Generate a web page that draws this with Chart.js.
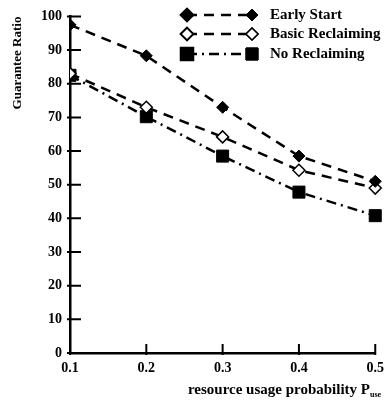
<!DOCTYPE html>
<html>
<head>
<meta charset="utf-8">
<script src="https://cdn.jsdelivr.net/npm/chart.js@4/dist/chart.umd.min.js"></script>
<style>
  body { margin: 0; background: #fff; }
  #wrap { width: 391px; height: 402px; }
</style>
</head>
<body>
<div id="wrap"><canvas id="canvas1" width="391" height="402"></canvas></div>
<script>
// Data
let probs = [0.1, 0.2, 0.3, 0.4, 0.5];
let earlyStart = [97.5, 88.3, 73, 58.5, 51];
let basicReclaiming = [83, 73, 64.2, 54.3, 49];
let noReclaiming = [82.5, 70.2, 58.5, 47.8, 40.8];
let yTicks = [0, 10, 20, 30, 40, 50, 60, 70, 80, 90, 100];
let xTicks = ["0.1", "0.2", "0.3", "0.4", "0.5"];

const serif = "'Liberation Serif', 'DejaVu Serif', serif";

function toXY(vals) {
    return vals.map((v, i) => ({ x: probs[i], y: v }));
}

// inside ticks, legend with two markers, axis titles
const paperPlugin = {
    id: "paper",
    afterDraw(chart) {
        let ctx = chart.ctx;
        let area = chart.chartArea;
        let x = chart.scales.x, y = chart.scales.y;
        ctx.save();
        ctx.strokeStyle = "#000";
        ctx.lineWidth = 2;
        ctx.beginPath();
        yTicks.forEach(v => {
            let py = y.getPixelForValue(v);
            ctx.moveTo(area.left - 3, py);
            ctx.lineTo(area.left + 11, py);
        });
        xTicks.forEach(t => {
            let px = x.getPixelForValue(parseFloat(t));
            ctx.moveTo(px, area.bottom + 2);
            ctx.lineTo(px, area.bottom - 9);
        });
        ctx.stroke();

        // legend
        let rows = [15, 34, 54];
        chart.data.datasets.forEach((ds, i) => {
            let ly = rows[i];
            ctx.setLineDash(ds.borderDash);
            ctx.lineWidth = ds.borderWidth;
            ctx.strokeStyle = "#000";
            ctx.beginPath();
            ctx.moveTo(187, ly);
            ctx.lineTo(252, ly);
            ctx.stroke();
            ctx.setLineDash([]);
            [187, 252].forEach(mx => {
                Chart.helpers.drawPoint(ctx, {
                    pointStyle: ds.pointStyle,
                    radius: ds.pointRadius,
                    borderWidth: ds.pointBorderWidth
                }, mx, ly);
                ctx.fillStyle = ds.pointBackgroundColor;
                ctx.strokeStyle = "#000";
                ctx.lineWidth = ds.pointBorderWidth;
                ctx.fill();
                ctx.stroke();
            });
            ctx.fillStyle = "#000";
            ctx.font = "bold 15px " + serif;
            ctx.textAlign = "left";
            ctx.textBaseline = "middle";
            ctx.fillText(ds.label, 270, ly);
        });

        // x axis title
        ctx.fillStyle = "#000";
        ctx.font = "bold 15px " + serif;
        ctx.textAlign = "right";
        ctx.textBaseline = "alphabetic";
        ctx.fillText("resource usage probability P", 370, 394);
        ctx.font = "bold 8px " + serif;
        ctx.textAlign = "left";
        ctx.fillText("use", 370, 397);

        // y axis title
        ctx.translate(18, 63);
        ctx.rotate(-Math.PI / 2);
        ctx.font = "bold 13px " + serif;
        ctx.textAlign = "center";
        ctx.textBaseline = "middle";
        ctx.fillText("Guarantee Ratio", 0, 0);
        ctx.restore();
    }
};

let myChart1 = document.querySelector("#canvas1").getContext("2d");

let lineChart = new Chart(myChart1, {
    type: "line",
    data: {
        datasets: [{
            label: "Early Start",
            data: toXY(earlyStart),
            borderColor: "#000",
            borderWidth: 2.5,
            borderDash: [10, 7],
            pointStyle: "rectRot",
            pointRadius: 6,
            pointBorderWidth: 1,
            pointBackgroundColor: "#000",
            pointBorderColor: "#000",
            clip: { left: 0, top: false, right: false, bottom: false }
        }, {
            label: "Basic Reclaiming",
            data: toXY(basicReclaiming),
            borderColor: "#000",
            borderWidth: 2.5,
            borderDash: [10, 7],
            pointStyle: "rectRot",
            pointRadius: 6,
            pointBorderWidth: 1.5,
            pointBackgroundColor: "#fff",
            pointBorderColor: "#000",
            clip: { left: 0, top: false, right: false, bottom: false }
        }, {
            label: "No Reclaiming",
            data: toXY(noReclaiming),
            borderColor: "#000",
            borderWidth: 2.5,
            borderDash: [10, 5, 2, 5],
            pointStyle: "rect",
            pointRadius: 8.5,
            pointBorderWidth: 1,
            pointBackgroundColor: "#000",
            pointBorderColor: "#000",
            clip: { left: 0, top: false, right: false, bottom: false }
        }]
    },
    options: {
        responsive: false,
        animation: false,
        layout: { padding: { top: 13, right: 11, left: 0, bottom: 0 } },
        plugins: { legend: { display: false }, tooltip: { enabled: false } },
        scales: {
            x: {
                type: "linear",
                min: 0.1,
                max: 0.5,
                afterBuildTicks: s => { s.ticks = xTicks.map(t => ({ value: parseFloat(t) })); },
                afterFit: s => { s.height = 49; },
                border: { color: "#000", width: 2.5 },
                grid: { display: false, drawTicks: false },
                ticks: {
                    color: "#000",
                    padding: 7,
                    font: { family: serif, size: 14, weight: "bold" },
                    callback: v => v.toFixed(1)
                }
            },
            y: {
                min: 0,
                max: 100,
                afterBuildTicks: s => { s.ticks = yTicks.map(v => ({ value: v })); },
                afterFit: s => { s.width = 70; },
                border: { color: "#000", width: 2.5 },
                grid: { display: false, drawTicks: false },
                ticks: {
                    color: "#000",
                    padding: 8,
                    font: { family: serif, size: 14, weight: "bold" }
                }
            }
        }
    },
    plugins: [paperPlugin]
});
</script>
</body>
</html>
